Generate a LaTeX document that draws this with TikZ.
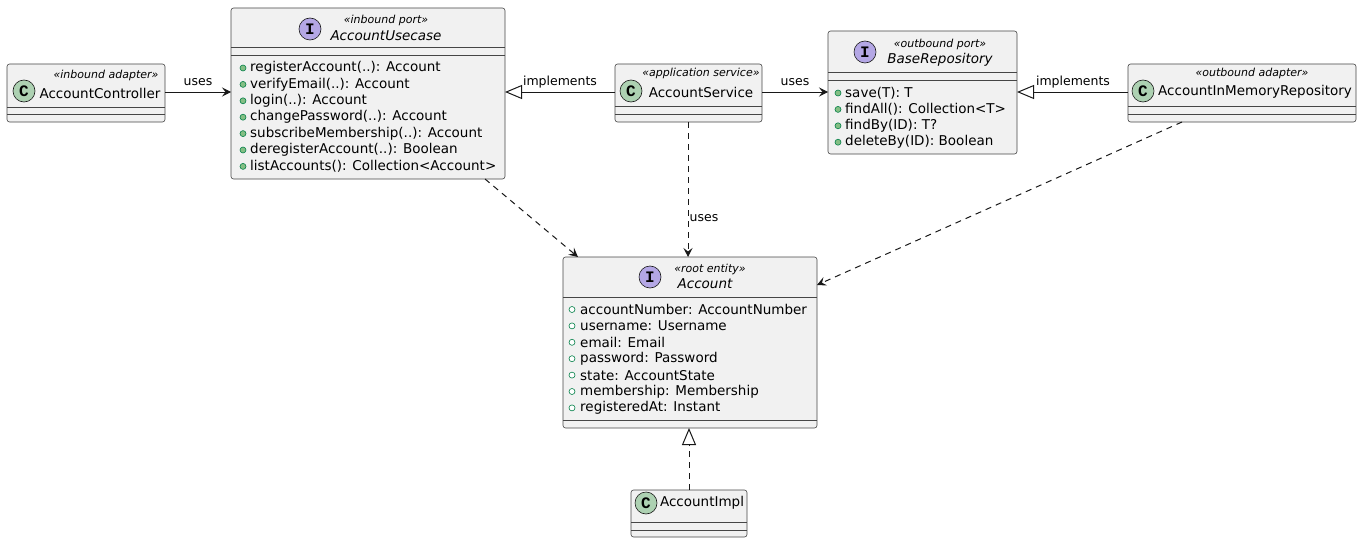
\documentclass[tikz,border=0pt]{standalone}
\usepackage{fontspec}
\setmainfont{DejaVu Sans}
\newfontfamily\iconfont{Liberation Mono}
\usetikzlibrary{arrows.meta,calc}
\definecolor{boxfill}{HTML}{F1F1F1}
\definecolor{boxdraw}{HTML}{181818}
\definecolor{cfill}{HTML}{ADD1B2}
\definecolor{ifill}{HTML}{B4A7E5}
\definecolor{pubfill}{HTML}{84BE84}
\definecolor{pubdraw}{HTML}{038048}
\tikzset{
  box/.style={draw=boxdraw!80, fill=boxfill, rounded corners=2.5pt, line width=0.6pt, inner sep=0pt, outer sep=0pt},
  sepline/.style={draw=boxdraw!80, line width=0.6pt},
  icon/.style={circle, draw=boxdraw, line width=0.6pt, minimum size=22pt, inner sep=0pt, font=\iconfont\fontsize{16}{16}\selectfont\bfseries},
  cicon/.style={icon, fill=cfill},
  iicon/.style={icon, fill=ifill},
  stereo/.style={inner sep=0pt, font=\fontsize{11}{12}\selectfont\itshape},
  cname/.style={inner sep=0pt, font=\fontsize{13.5}{15}\selectfont},
  iname/.style={inner sep=0pt, font=\fontsize{13.5}{15}\selectfont\itshape},
  member/.style={anchor=west, inner sep=0pt, font=\fontsize{13.5}{15}\selectfont},
  pubm/.style={circle, fill=pubfill, draw=pubdraw, line width=0.6pt, minimum size=6pt, inner sep=0pt},
  pubf/.style={circle, fill=white, draw=pubdraw, line width=0.6pt, minimum size=6pt, inner sep=0pt},
  elabel/.style={inner sep=0pt, font=\fontsize{12.5}{14}\selectfont},
  rel/.style={draw=boxdraw, line width=1pt},
  usesarrow/.style={rel, -{Stealth[length=9pt,width=9pt,inset=3.5pt]}},
  realarrow/.style={rel, -{Triangle[open, length=17pt, width=14pt, fill=white]}},
  deparrow/.style={usesarrow, dash pattern=on 6pt off 5pt},
  deprealarrow/.style={realarrow, dash pattern=on 6pt off 5pt},
}
\begin{document}
\begin{tikzpicture}[x=1pt,y=-1pt]
\useasboundingbox (0,0) rectangle (1363,543);

% ---------- AccountController ----------
\node[box, minimum width=158pt, minimum height=58pt] (ctrl) at (86,93) {};
\draw[sepline] (7,107) -- (165,107) (7,114) -- (165,114);
\node[cicon] (ctrlicon) at (24,91) {C};
\node[stereo] (ctrlst) at (106,75) {«inbound adapter»};
\node[cname] (ctrlname) at (100,93) {AccountController};

% ---------- AccountUsecase ----------
\node[box, minimum width=274pt, minimum height=171pt] (uc) at (368,93.5) {};
\draw[sepline] (231,47) -- (505,47) (231,55) -- (505,55);
\node[iicon] (ucicon) at (310,29) {I};
\node[stereo] (ucst) at (386,20) {«inbound port»};
\node[iname] (ucname) at (386,36) {AccountUsecase};
\foreach \t [count=\i] in {registerAccount(..): Account, verifyEmail(..): Account, login(..): Account, changePassword(..): Account, subscribeMembership(..): Account, deregisterAccount(..): Boolean, listAccounts(): Collection<Account>}{
  \node[pubm] (ucd\i) at (243,{68+16.4*(\i-1)}) {};
  \node[member] (ucm\i) at (250,{68+16.4*(\i-1)}) {\t};
}

% ---------- AccountService ----------
\node[box, minimum width=147pt, minimum height=58pt] (svc) at (688.5,93) {};
\draw[sepline] (615,106) -- (762,106) (615,114) -- (762,114);
\node[cicon] (svcicon) at (631,91) {C};
\node[stereo] (svcst) at (701,73) {«application service»};
\node[cname] (svcname) at (701,92) {AccountService};

% ---------- BaseRepository ----------
\node[box, minimum width=189pt, minimum height=123pt] (repo) at (922.5,92.5) {};
\draw[sepline] (828,72) -- (1017,72) (828,80) -- (1017,80);
\node[iicon] (repoicon) at (865,52) {I};
\node[stereo] (repost) at (940,44) {«outbound port»};
\node[iname] (reponame) at (940,60) {BaseRepository};
\foreach \t [count=\i] in {save(T): T, findAll(): Collection<T>, findBy(ID): T?, deleteBy(ID): Boolean}{
  \node[pubm] (repod\i) at (838,{93+16.4*(\i-1)}) {};
  \node[member] (repom\i) at (845,{93+16.4*(\i-1)}) {\t};
}

% ---------- AccountInMemoryRepository ----------
\node[box, minimum width=228pt, minimum height=58pt] (mem) at (1242,93) {};
\draw[sepline] (1128,106) -- (1356,106) (1128,114) -- (1356,114);
\node[cicon] (memicon) at (1143,91) {C};
\node[stereo] (memst) at (1252,73) {«outbound adapter»};
\node[cname] (memname) at (1255,92) {AccountInMemoryRepository};

% ---------- Account ----------
\node[box, minimum width=254pt, minimum height=171pt] (acc) at (690,342.5) {};
\draw[sepline] (563,297) -- (817,297) (563,420) -- (817,420);
\node[iicon] (accicon) at (650,277) {I};
\node[stereo] (accst) at (710,269) {«root entity»};
\node[iname] (accname) at (705,284) {Account};
\foreach \t [count=\i] in {accountNumber: AccountNumber, username: Username, email: Email, password: Password, state: AccountState, membership: Membership, registeredAt: Instant}{
  \node[pubf] (accd\i) at (572,{309.5+16.4*(\i-1)}) {};
  \node[member] (accm\i) at (580,{309.5+16.4*(\i-1)}) {\t};
}

% ---------- AccountImpl ----------
\node[box, minimum width=116pt, minimum height=47pt] (impl) at (689,513.5) {};
\draw[sepline] (631,522) -- (747,522) (631,530) -- (747,530);
\node[cicon] (implicon) at (646,503) {C};
\node[cname] (implname) at (702,503) {AccountImpl};

% ---------- connectors ----------
\draw[usesarrow] (ctrl.east |- 0,92) -- (uc.west |- 0,92);
\node[elabel] (l1) at (198,82) {uses};
\draw[realarrow] (svc.west |- 0,92) -- (uc.east |- 0,92);
\node[elabel] (l2) at (560,82) {implements};
\draw[usesarrow] (svc.east |- 0,92) -- (repo.west |- 0,92);
\node[elabel] (l3) at (795,82) {uses};
\draw[realarrow] (mem.west |- 0,92) -- (repo.east |- 0,92);
\node[elabel] (l4) at (1073,82) {implements};
\draw[deparrow] (uc.south -| 485,0) -- (acc.north -| 578,0);
\draw[deparrow] (svc.south -| 688,0) -- (acc.north -| 688,0);
\node[elabel] (l5) at (704,218) {uses};
\draw[deparrow] (mem.south -| 1182,0) -- (acc.east |- 0,285);
\draw[deprealarrow] (impl.north -| 689,0) -- (acc.south -| 689,0);
\end{tikzpicture}
\end{document}
